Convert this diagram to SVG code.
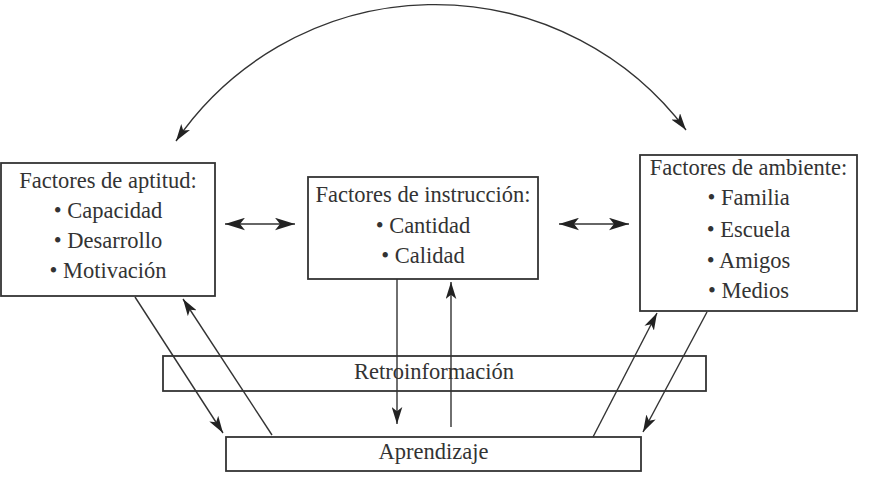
<svg xmlns="http://www.w3.org/2000/svg" width="869" height="477" viewBox="0 0 869 477">
<style>
.box{fill:#fff;stroke:#333;stroke-width:1.8}
.t{font-family:"Liberation Serif","Times New Roman",serif;font-size:22.5px;fill:#333;text-anchor:middle}
.c{fill:none;stroke:#333;stroke-width:1.4}
</style>
<defs>
<marker id="ah" viewBox="0 0 16 10" refX="16" refY="5" markerWidth="17" markerHeight="11" markerUnits="userSpaceOnUse" orient="auto-start-reverse">
<path d="M0,0 L16,5 L0,10 L4,5 z" fill="#222"/>
</marker>
<marker id="ahb" viewBox="0 0 16 10" refX="16" refY="5" markerWidth="20" markerHeight="13" markerUnits="userSpaceOnUse" orient="auto-start-reverse">
<path d="M0,0 L16,5 L0,10 L4,5 z" fill="#222"/>
</marker>
</defs>
<rect width="869" height="477" fill="#fff"/>
<g id="aptitud">
<rect class="box" x="1" y="163" width="214" height="133"/>
<text class="t" x="108" y="188">Factores de aptitud:</text>
<text class="t" x="108" y="218">• Capacidad</text>
<text class="t" x="108" y="248">• Desarrollo</text>
<text class="t" x="108" y="278">• Motivación</text>
</g>
<g id="instruccion">
<rect class="box" x="308" y="177" width="230" height="102"/>
<text class="t" x="423" y="202">Factores de instrucción:</text>
<text class="t" x="423" y="233">• Cantidad</text>
<text class="t" x="423" y="263">• Calidad</text>
</g>
<g id="ambiente">
<rect class="box" x="640" y="155" width="217" height="156"/>
<text class="t" x="748.5" y="175">Factores de ambiente:</text>
<text class="t" x="748.5" y="205">• Familia</text>
<text class="t" x="748.5" y="237">• Escuela</text>
<text class="t" x="748.5" y="268">• Amigos</text>
<text class="t" x="748.5" y="298">• Medios</text>
</g>
<g id="retro">
<rect class="box" x="163" y="356" width="543" height="35"/>
<text class="t" x="434" y="379">Retroinformación</text>
</g>
<g id="aprendizaje">
<rect class="box" x="226" y="437" width="415" height="34"/>
<text class="t" x="433.5" y="459">Aprendizaje</text>
</g>
<g id="connectors">
<path class="c" d="M176,141 A314,314 0 0 1 686,130" marker-start="url(#ah)" marker-end="url(#ah)"/>
<line class="c" x1="225" y1="224" x2="295" y2="224" marker-start="url(#ahb)" marker-end="url(#ahb)"/>
<line class="c" x1="559" y1="224" x2="629" y2="224" marker-start="url(#ahb)" marker-end="url(#ahb)"/>
<line class="c" x1="135" y1="297" x2="223" y2="433" marker-end="url(#ah)"/>
<line class="c" x1="272" y1="435" x2="183" y2="299" marker-end="url(#ah)"/>
<line class="c" x1="397" y1="279" x2="397" y2="424" marker-end="url(#ah)"/>
<line class="c" x1="451" y1="427" x2="451" y2="282" marker-end="url(#ah)"/>
<line class="c" x1="593" y1="437" x2="657" y2="313" marker-end="url(#ah)"/>
<line class="c" x1="707" y1="312" x2="643" y2="432" marker-end="url(#ah)"/>
</g>
</svg>
